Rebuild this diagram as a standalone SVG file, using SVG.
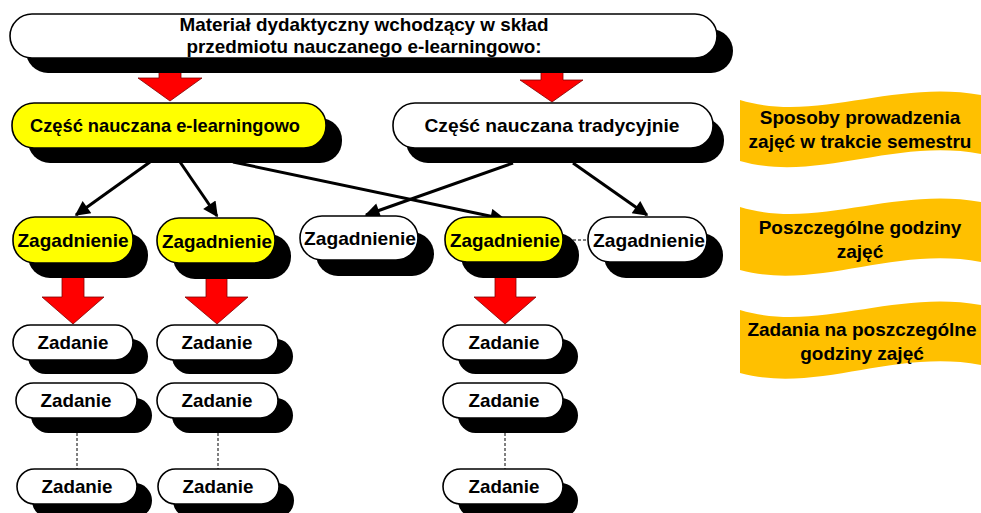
<svg xmlns="http://www.w3.org/2000/svg" width="981" height="513" viewBox="0 0 981 513">
<defs>
<style>
.sh{fill:#000}
.bx{stroke:#000;stroke-width:1.6}
.w{fill:#fff}
.y{fill:#ffff00}
.t{font-family:"Liberation Sans",Arial,sans-serif;font-weight:bold;fill:#000;text-anchor:middle;font-size:19px}
.ra{fill:#ff0000;stroke:#800000;stroke-width:0.8}
.cn{stroke:#000;stroke-width:3;fill:none;marker-end:url(#ah)}
.ds{stroke:#000;stroke-width:1;stroke-dasharray:3,2;fill:none}
.bn{fill:#ffc000}
</style>
<marker id="ah" viewBox="0 0 10 10" refX="9" refY="5" markerWidth="5.5" markerHeight="5" orient="auto" markerUnits="strokeWidth">
<path d="M0,0 L10,5 L0,10 Z" fill="#000"/>
</marker>
</defs>
<rect width="981" height="513" fill="#fff"/>

<g id="banners">
<path class="bn" d="M740,100 C820,124 900,76 990,97 L990,156 C900,134 820,184 740,161 Z"/>
<path class="bn" d="M740,207 C820,231 900,183 990,204 L990,264 C900,242 820,292 740,270 Z"/>
<path class="bn" d="M740,310 C820,334 900,286 990,307 L990,367 C900,345 820,395 740,373 Z"/>
<text class="t" x="860" y="124">Sposoby prowadzenia</text>
<text class="t" x="860" y="148">zajęć w trakcie semestru</text>
<text class="t" x="860" y="234">Poszczególne godziny</text>
<text class="t" x="860" y="258">zajęć</text>
<text class="t" x="862" y="336">Zadania na poszczególne</text>
<text class="t" x="862" y="360">godziny zajęć</text>
</g>

<g id="arrows-red">
<path class="ra" d="M159,68 H181 V78 H202 L170,101 L138,78 H159 Z"/>
<path class="ra" d="M541,68 H563 V80 H583 L552,102 L520,80 H541 Z"/>
<path class="ra" d="M62,275 H84 V297 H104 L73,324 L42,297 H62 Z"/>
<path class="ra" d="M206,275 H227 V297 H248 L217,324 L185,297 H206 Z"/>
<path class="ra" d="M495,275 H516 V297 H536 L505,324 L474,297 H495 Z"/>
</g>

<g id="n-top">
<rect class="sh" x="26" y="29" width="707" height="44" rx="22"/>
<rect class="bx w" x="10" y="14" width="707" height="44" rx="22"/>
<text class="t" x="364" y="31" textLength="369" lengthAdjust="spacingAndGlyphs">Materiał dydaktyczny wchodzący w skład</text>
<text class="t" x="364" y="53" textLength="355" lengthAdjust="spacingAndGlyphs">przedmiotu nauczanego e-learningowo:</text>
</g>

<g id="n-elearn">
<rect class="sh" x="28" y="118" width="314" height="45" rx="22"/>
<rect class="bx y" x="12" y="103" width="314" height="45" rx="22"/>
<text class="t" x="165" y="132" textLength="270" lengthAdjust="spacingAndGlyphs">Część nauczana e-learningowo</text>
</g>

<g id="n-trad">
<rect class="sh" x="406" y="118" width="318" height="45" rx="22"/>
<rect class="bx w" x="393" y="103" width="320" height="45" rx="22"/>
<text class="t" x="552" y="132" textLength="255" lengthAdjust="spacingAndGlyphs">Część nauczana tradycyjnie</text>
</g>

<g id="connectors">
<line class="cn" x1="150" y1="162" x2="76" y2="215"/>
<line class="cn" x1="180" y1="162" x2="217" y2="216"/>
<line class="cn" x1="233" y1="162" x2="504" y2="219"/>
<line class="cn" x1="513" y1="163" x2="366" y2="215"/>
<line class="cn" x1="573" y1="163" x2="647" y2="215"/>
<line class="ds" x1="563" y1="240" x2="590" y2="240"/>
<line class="ds" x1="77" y1="433" x2="77" y2="469"/>
<line class="ds" x1="218" y1="433" x2="218" y2="469"/>
<line class="ds" x1="505" y1="433" x2="505" y2="469"/>
</g>

<g id="z1">
<rect class="sh" x="28" y="233" width="120" height="45" rx="22"/>
<rect class="bx y" x="13" y="217" width="120" height="46" rx="22"/>
<text class="t" x="73" y="247" textLength="111" lengthAdjust="spacingAndGlyphs">Zagadnienie</text>
</g>
<g id="z2">
<rect class="sh" x="173" y="234" width="118" height="45" rx="22"/>
<rect class="bx y" x="157" y="218" width="118" height="45" rx="22"/>
<text class="t" x="217" y="248" textLength="110" lengthAdjust="spacingAndGlyphs">Zagadnienie</text>
</g>
<g id="z3">
<rect class="sh" x="316" y="232" width="118" height="44" rx="22"/>
<rect class="bx w" x="300" y="216" width="118" height="44" rx="22"/>
<text class="t" x="360" y="245" textLength="112" lengthAdjust="spacingAndGlyphs">Zagadnienie</text>
</g>
<g id="z4">
<rect class="sh" x="461" y="233" width="118" height="45" rx="22"/>
<rect class="bx y" x="445" y="217" width="118" height="45" rx="22"/>
<text class="t" x="505" y="247" textLength="110" lengthAdjust="spacingAndGlyphs">Zagadnienie</text>
</g>
<g id="z5">
<rect class="sh" x="604" y="233" width="119" height="45" rx="22"/>
<rect class="bx w" x="588" y="217" width="119" height="45" rx="22"/>
<text class="t" x="649" y="247" textLength="112" lengthAdjust="spacingAndGlyphs">Zagadnienie</text>
</g>

<g id="t1a"><rect class="sh" x="28" y="339" width="120" height="35" rx="17.5"/><rect class="bx w" x="13" y="325" width="120" height="35" rx="17.5"/><text class="t" x="73" y="349" textLength="71" lengthAdjust="spacingAndGlyphs">Zadanie</text></g>
<g id="t1b"><rect class="sh" x="31" y="398" width="121" height="35" rx="17.5"/><rect class="bx w" x="16" y="383" width="121" height="35" rx="17.5"/><text class="t" x="76" y="407" textLength="71" lengthAdjust="spacingAndGlyphs">Zadanie</text></g>
<g id="t1c"><rect class="sh" x="32" y="483" width="120" height="35" rx="17.5"/><rect class="bx w" x="17" y="469" width="120" height="35" rx="17.5"/><text class="t" x="77" y="493" textLength="71" lengthAdjust="spacingAndGlyphs">Zadanie</text></g>
<g id="t2a"><rect class="sh" x="172" y="339" width="121" height="35" rx="17.5"/><rect class="bx w" x="157" y="325" width="121" height="35" rx="17.5"/><text class="t" x="217" y="349" textLength="71" lengthAdjust="spacingAndGlyphs">Zadanie</text></g>
<g id="t2b"><rect class="sh" x="172" y="398" width="121" height="35" rx="17.5"/><rect class="bx w" x="157" y="383" width="121" height="35" rx="17.5"/><text class="t" x="217" y="407" textLength="71" lengthAdjust="spacingAndGlyphs">Zadanie</text></g>
<g id="t2c"><rect class="sh" x="173" y="483" width="121" height="35" rx="17.5"/><rect class="bx w" x="158" y="469" width="121" height="35" rx="17.5"/><text class="t" x="218" y="493" textLength="71" lengthAdjust="spacingAndGlyphs">Zadanie</text></g>
<g id="t3a"><rect class="sh" x="458" y="339" width="120" height="35" rx="17.5"/><rect class="bx w" x="443" y="325" width="120" height="35" rx="17.5"/><text class="t" x="504" y="349" textLength="71" lengthAdjust="spacingAndGlyphs">Zadanie</text></g>
<g id="t3b"><rect class="sh" x="458" y="398" width="120" height="35" rx="17.5"/><rect class="bx w" x="443" y="383" width="120" height="35" rx="17.5"/><text class="t" x="504" y="407" textLength="71" lengthAdjust="spacingAndGlyphs">Zadanie</text></g>
<g id="t3c"><rect class="sh" x="458" y="483" width="120" height="35" rx="17.5"/><rect class="bx w" x="443" y="469" width="120" height="35" rx="17.5"/><text class="t" x="504" y="493" textLength="71" lengthAdjust="spacingAndGlyphs">Zadanie</text></g>
</svg>
